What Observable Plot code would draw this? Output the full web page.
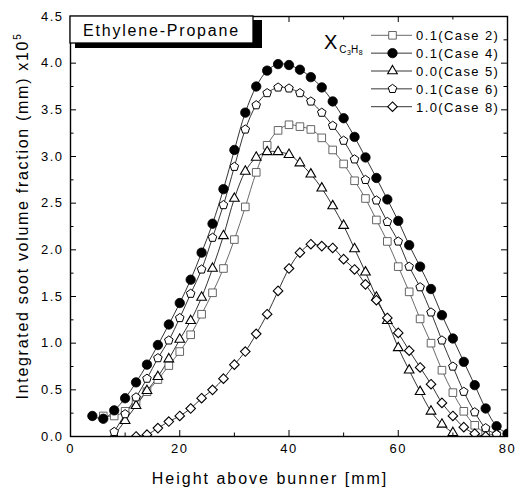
<!DOCTYPE html>
<html>
<head>
<meta charset="utf-8">
<script src="https://cdn.jsdelivr.net/npm/d3@7"></script>
<script src="https://cdn.jsdelivr.net/npm/@observablehq/plot@0.6"></script>
<style>
  body { margin: 0; background: #fff; }
  #chart svg { display: block; }
</style>
</head>
<body>
<div id="chart"></div>
<script>
// Integrated soot volume fraction (x10^5, mm) versus height above burner (mm)
const heightsCase2 = [6, 8, 10, 12, 14, 16, 18, 20, 22, 24, 26, 28, 30, 32, 34, 36, 38, 40, 42, 44, 46, 48, 50, 52, 54, 56, 58, 60, 62, 64, 66, 68, 70, 72, 74, 76, 78];
const sootCase2 = [0.22, 0.22, 0.27, 0.37, 0.48, 0.61, 0.76, 0.91, 1.09, 1.31, 1.54, 1.80, 2.11, 2.46, 2.83, 3.12, 3.28, 3.34, 3.32, 3.29, 3.20, 3.07, 2.92, 2.74, 2.55, 2.32, 2.09, 1.82, 1.55, 1.26, 1.00, 0.71, 0.47, 0.27, 0.12, 0.04, 0.01];

const heightsCase4 = [4, 6, 8, 10, 12, 14, 16, 18, 20, 22, 24, 26, 28, 30, 32, 34, 36, 38, 40, 42, 44, 46, 48, 50, 52, 54, 56, 58, 60, 62, 64, 66, 68, 70, 72, 74, 76, 78, 80];
const sootCase4 = [0.22, 0.19, 0.28, 0.41, 0.58, 0.77, 0.98, 1.20, 1.43, 1.68, 1.97, 2.28, 2.65, 3.07, 3.47, 3.75, 3.92, 3.99, 3.98, 3.93, 3.85, 3.74, 3.59, 3.41, 3.21, 2.99, 2.77, 2.54, 2.31, 2.05, 1.82, 1.58, 1.30, 1.05, 0.80, 0.55, 0.30, 0.11, 0.03];

const heightsCase5 = [8, 10, 12, 14, 16, 18, 20, 22, 24, 26, 28, 30, 32, 34, 36, 38, 40, 42, 44, 46, 48, 50, 52, 54, 56, 58, 60, 62, 64, 66, 68, 70];
const sootCase5 = [0.01, 0.17, 0.33, 0.49, 0.64, 0.83, 1.04, 1.24, 1.49, 1.80, 2.15, 2.55, 2.84, 2.99, 3.05, 3.05, 3.02, 2.93, 2.81, 2.66, 2.47, 2.26, 2.01, 1.76, 1.49, 1.24, 0.95, 0.71, 0.48, 0.27, 0.13, 0.04];

const heightsCase6 = [8, 10, 12, 14, 16, 18, 20, 22, 24, 26, 28, 30, 32, 34, 36, 38, 40, 42, 44, 46, 48, 50, 52, 54, 56, 58, 60, 62, 64, 66, 68, 70, 72, 74, 76, 78];
const sootCase6 = [0.05, 0.24, 0.42, 0.62, 0.84, 1.03, 1.27, 1.53, 1.79, 2.13, 2.48, 2.89, 3.29, 3.55, 3.68, 3.74, 3.73, 3.68, 3.59, 3.47, 3.33, 3.17, 2.97, 2.75, 2.53, 2.30, 2.09, 1.82, 1.60, 1.33, 1.03, 0.75, 0.48, 0.26, 0.09, 0.02];

const heightsCase8 = [12, 14, 16, 18, 20, 22, 24, 26, 28, 30, 32, 34, 36, 38, 40, 42, 44, 46, 48, 50, 52, 54, 56, 58, 60, 62, 64, 66, 68, 70, 72, 74, 76];
const sootCase8 = [0.00, 0.02, 0.09, 0.16, 0.22, 0.30, 0.41, 0.50, 0.62, 0.77, 0.91, 1.10, 1.31, 1.56, 1.80, 1.97, 2.06, 2.04, 2.02, 1.90, 1.79, 1.63, 1.46, 1.27, 1.11, 0.92, 0.74, 0.56, 0.36, 0.22, 0.10, 0.03, 0.00];

const seriesLabels = ["0.1(Case 2)", "0.1(Case 4)", "0.0(Case 5)", "0.1(Case 6)", "1.0(Case 8)"];

const xMajorTicks = [0, 20, 40, 60, 80];
const xMinorTicks = [10, 30, 50, 70];
const yMajorTicks = [0, 0.5, 1.0, 1.5, 2.0, 2.5, 3.0, 3.5, 4.0, 4.5];
const yMinorTicks = [0.25, 0.75, 1.25, 1.75, 2.25, 2.75, 3.25, 3.75, 4.25];

// Open pentagon marker (d3-symbol compatible)
const pentagon = {
  draw(context, size) {
    const r = Math.sqrt(size / Math.PI);
    for (let i = 0; i < 5; ++i) {
      const a = -Math.PI / 2 + (i * 2 * Math.PI) / 5;
      const px = r * Math.cos(a), py = r * Math.sin(a);
      if (i === 0) context.moveTo(px, py); else context.lineTo(px, py);
    }
    context.closePath();
  }
};

const series = [
  {label: seriesLabels[0], xs: heightsCase2, ys: sootCase2, symbol: "square",   r: 4.3, fill: "white", stroke: "#555", line: "#444", sw: 0.9},
  {label: seriesLabels[1], xs: heightsCase4, ys: sootCase4, symbol: "circle",   r: 4.7, fill: "black", stroke: "black", line: "black", sw: 0.8},
  {label: seriesLabels[2], xs: heightsCase5, ys: sootCase5, symbol: "triangle", r: 3.6, fill: "white", stroke: "black", line: "black", sw: 1.1},
  {label: seriesLabels[3], xs: heightsCase6, ys: sootCase6, symbol: pentagon,   r: 4.5, fill: "white", stroke: "black", line: "black", sw: 1.0},
  {label: seriesLabels[4], xs: heightsCase8, ys: sootCase8, symbol: "diamond2", r: 4.3, fill: "white", stroke: "black", line: "black", sw: 1.1}
];
series.forEach(s => { s.rows = s.xs.map((x, i) => ({x, y: s.ys[i]})); });

const W = 516, H = 491;
const mTop = 16, mRight = 9, mBottom = 55, mLeft = 70;
const innerW = W - mLeft - mRight;
const innerH = H - mTop - mBottom;
const majorLen = 6, minorLen = 3.5;

const marks = [];
// connecting curves first, markers on top
for (const s of series) {
  marks.push(Plot.line(s.rows, {x: "x", y: "y", curve: "catmull-rom", stroke: s.line, strokeWidth: 0.8, clip: true}));
}
for (const s of series) {
  marks.push(Plot.dot(s.rows, {x: "x", y: "y", symbol: s.symbol, r: s.r, fill: s.fill, stroke: s.stroke, strokeWidth: s.sw, clip: true}));
}
// inward ticks on all four sides
marks.push(
  Plot.tickX(xMajorTicks, {x: d => d, insetTop: innerH - majorLen, stroke: "black", strokeWidth: 1}),
  Plot.tickX(xMinorTicks, {x: d => d, insetTop: innerH - minorLen, stroke: "black", strokeWidth: 1}),
  Plot.tickX(xMajorTicks, {x: d => d, insetBottom: innerH - majorLen, stroke: "black", strokeWidth: 1}),
  Plot.tickX(xMinorTicks, {x: d => d, insetBottom: innerH - minorLen, stroke: "black", strokeWidth: 1}),
  Plot.tickY(yMajorTicks, {y: d => d, insetRight: innerW - majorLen, stroke: "black", strokeWidth: 1}),
  Plot.tickY(yMinorTicks, {y: d => d, insetRight: innerW - minorLen, stroke: "black", strokeWidth: 1}),
  Plot.tickY(yMajorTicks, {y: d => d, insetLeft: innerW - majorLen, stroke: "black", strokeWidth: 1}),
  Plot.tickY(yMinorTicks, {y: d => d, insetLeft: innerW - minorLen, stroke: "black", strokeWidth: 1}),
  Plot.axisX(xMajorTicks, {tickSize: 0, tickPadding: 7, label: null, tickFormat: d => String(d)}),
  Plot.axisY(yMajorTicks, {tickSize: 0, tickPadding: 7, label: null, tickFormat: d3.format(".1f")}),
  Plot.frame({stroke: "black", strokeWidth: 1.4})
);

const chart = Plot.plot({
  width: W,
  height: H,
  marginTop: mTop,
  marginRight: mRight,
  marginBottom: mBottom,
  marginLeft: mLeft,
  x: {domain: [0, 80]},
  y: {domain: [0, 4.5]},
  style: {fontFamily: "'Liberation Sans', Arial, sans-serif", fontSize: "13px", color: "black", background: "white", letterSpacing: "1.5px"},
  marks
});

const svg = d3.select(chart);
const font = "'Liberation Sans', Arial, sans-serif";

// axis titles
svg.append("text")
  .attr("x", 270).attr("y", 484)
  .attr("text-anchor", "middle")
  .style("font", `16px ${font}`).style("letter-spacing", "2px")
  .text("Height above bunner [mm]");

const yTitle = svg.append("text")
  .attr("transform", "translate(28,216) rotate(-90)")
  .attr("text-anchor", "middle")
  .style("font", `16px ${font}`).style("letter-spacing", "1.7px");
yTitle.append("tspan").text("Integrated soot volume fraction (mm) x10");
yTitle.append("tspan").attr("dy", -7).style("font-size", "10px").text("5");

// fuel label box with drop shadow
const box = svg.append("g").attr("text-anchor", "start");
box.append("rect").attr("x", 75).attr("y", 20).attr("width", 187).attr("height", 28).attr("fill", "black");
box.append("rect").attr("x", 70).attr("y", 16).attr("width", 183).attr("height", 27).attr("fill", "white").attr("stroke", "black").attr("stroke-width", 1.3);
box.append("text").attr("x", 83).attr("y", 35.5)
  .style("font", `16px ${font}`).style("letter-spacing", "1.8px")
  .text("Ethylene-Propane");

// legend
const leg = svg.append("g").attr("text-anchor", "start");
const xLabel = leg.append("text").attr("x", 324).attr("y", 48.5).style("font", `20px ${font}`).style("letter-spacing", "0px");
xLabel.append("tspan").text("X");
xLabel.append("tspan").attr("dx", 2).attr("dy", 4).style("font-size", "10px").style("letter-spacing", "0.5px").text("C");
xLabel.append("tspan").attr("dy", 2).style("font-size", "7px").text("3");
xLabel.append("tspan").attr("dy", -2).style("font-size", "10px").style("letter-spacing", "0.5px").text("H");
xLabel.append("tspan").attr("dy", 2).style("font-size", "7px").text("8");

series.forEach((s, i) => {
  const y = 35.3 + i * 17.85;
  leg.append("line").attr("x1", 371).attr("x2", 412).attr("y1", y).attr("y2", y)
    .attr("stroke", s.line).attr("stroke-width", 0.8);
  const sym = s.symbol === "square" ? d3.symbolSquare
    : s.symbol === "circle" ? d3.symbolCircle
    : s.symbol === "triangle" ? d3.symbolTriangle
    : s.symbol === "diamond2" ? d3.symbolDiamond2 : s.symbol;
  leg.append("path")
    .attr("transform", `translate(392.5,${y})`)
    .attr("d", d3.symbol(sym, Math.PI * s.r * s.r)())
    .attr("fill", s.fill).attr("stroke", s.stroke).attr("stroke-width", s.sw);
  leg.append("text").attr("x", 416).attr("y", y + 4.8)
    .style("font", `13px ${font}`).style("letter-spacing", "1.4px")
    .text(s.label);
});

document.getElementById("chart").appendChild(chart);
</script>
</body>
</html>
